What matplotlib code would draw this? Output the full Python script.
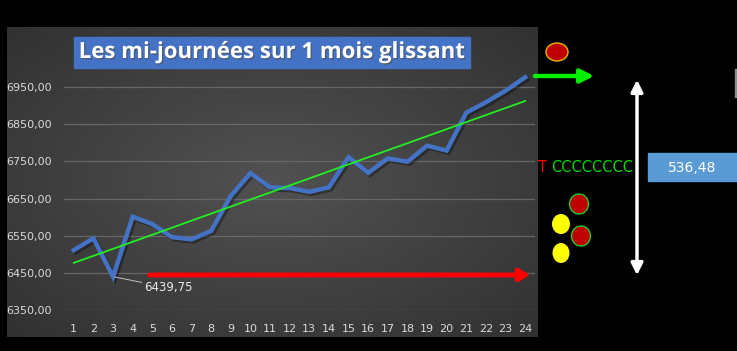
import numpy as np
import matplotlib
matplotlib.use("Agg")
import matplotlib.pyplot as plt
from matplotlib.patches import Ellipse, Rectangle, FancyArrowPatch
import matplotlib.patheffects as pe

# ---- data ----
days = list(range(1, 25))
values = [6511, 6543, 6439.75, 6601, 6581, 6546, 6540, 6563, 6657, 6718, 6680, 6678,
          6668, 6680, 6761, 6719, 6758, 6749, 6792, 6779, 6881, 6909, 6940, 6976]
ytick_vals = [6350, 6450, 6550, 6650, 6750, 6850, 6950]
min_label = "6439,75"
range_label = "536,48"
title = "Les mi-journées sur 1 mois glissant"

W, H = 737, 351
fig = plt.figure(figsize=(W / 100, H / 100), dpi=100, facecolor="black")

def fx(x):
    return x / W

def fy(y):
    return 1 - y / H

# background panel with radial gradient
px0, px1, py0, py1 = 7, 538, 27, 337
bg = fig.add_axes([fx(px0), fy(py1), fx(px1 - px0), (py1 - py0) / H])
bg.set_axis_off()
gx, gy = np.meshgrid(np.linspace(-1, 1, 300), np.linspace(-1, 1, 200))
r = np.sqrt((gx * 0.9) ** 2 + (gy * 0.9) ** 2)
shade = 0.32 - 0.13 * np.clip(r, 0, 1.3) / 1.3
img = np.dstack([shade, shade, shade])
bg.imshow(img, aspect="auto", extent=[0, 1, 0, 1], interpolation="bilinear")

# main chart
ax_left, ax_right = 64, 535
y_bottom, y_6950 = 310, 87
ymin, ymax = 6350, 7050
px_per_unit = (y_bottom - y_6950) / (6950 - 6350)
y_top = y_bottom - (ymax - ymin) * px_per_unit
ax = fig.add_axes([fx(ax_left), fy(y_bottom), fx(ax_right - ax_left), (y_bottom - y_top) / H])
ax.patch.set_alpha(0)
ax.set_xlim(0.5, 24.5)
ax.set_ylim(ymin, ymax)
for s in ax.spines.values():
    s.set_visible(False)
for v in ytick_vals:
    ax.axhline(v, color="#676767", lw=0.9, zorder=1)
ax.set_yticks(ytick_vals)
ax.set_yticklabels([f"{v:.2f}".replace(".", ",") for v in ytick_vals])
ax.set_xticks(days)
ax.tick_params(axis="both", length=0, colors="#d9d9d9", labelsize=8)
ax.tick_params(axis="y", pad=9)
ax.tick_params(axis="x", pad=10)

ax.plot(days, values, color="#4472C4", lw=3.2, zorder=3, solid_joinstyle="miter",
        path_effects=[pe.SimpleLineShadow(offset=(1.5, -1.5), alpha=0.35), pe.Normal()])

coef = np.polyfit(days, values, 1)
trend = np.polyval(coef, np.array(days, dtype=float))
ax.plot(days, trend, color="#22ee22", lw=1.3, zorder=4)

# data label for minimum
imin = int(np.argmin(values))
ax.annotate(min_label, xy=(days[imin], values[imin]), xytext=(days[imin] + 1.6, values[imin] - 30),
            color="#e8e8e8", fontsize=8.5, va="center", ha="left",
            arrowprops=dict(arrowstyle="-", color="#bfbfbf", lw=0.7, shrinkA=0, shrinkB=1))

# overlay axes in pixel coordinates
ov = fig.add_axes([0, 0, 1, 1])
ov.set_xlim(0, W)
ov.set_ylim(H, 0)
ov.set_axis_off()
ov.patch.set_alpha(0)

# title box
ov.add_patch(Rectangle((74, 37), 396, 31, color="#4472C4", zorder=5))
ov.text(272, 52.5, title, color="white", fontsize=16, fontweight="bold", family="Open Sans",
        ha="center", va="center", zorder=6,
        path_effects=[pe.withSimplePatchShadow(offset=(1, -1), alpha=0.6)])

# red arrow
ov.add_patch(FancyArrowPatch((147, 275), (533, 275), arrowstyle="-|>,head_length=6,head_width=3.5",
                             color="#ff0000", lw=3.5, mutation_scale=1, zorder=6))
# green arrow
ov.add_patch(FancyArrowPatch((532, 76), (597, 76), arrowstyle="-|>,head_length=8,head_width=4",
                             color="#00ee00", lw=3.2, mutation_scale=1, zorder=6))
# white double arrow
ov.add_patch(FancyArrowPatch((637, 77), (637, 278), arrowstyle="<|-|>,head_length=7,head_width=3.5",
                             color="white", lw=2.5, mutation_scale=1, zorder=6))

# ellipses
ov.add_patch(Ellipse((557, 52), 22, 18, facecolor="#c00000", edgecolor="#e6b800", lw=1, zorder=6))
ov.add_patch(Ellipse((579, 204), 19, 20, facecolor="#c00000", edgecolor="#22cc22", lw=1, zorder=6))
ov.add_patch(Ellipse((581, 236), 19, 20, facecolor="#c00000", edgecolor="#22cc22", lw=1, zorder=6))
ov.add_patch(Ellipse((561, 224), 18, 20, facecolor="#ffff00", edgecolor="none", zorder=6))
ov.add_patch(Ellipse((561, 253), 17, 20, facecolor="#ffff00", edgecolor="none", zorder=6))

# text
ov.text(538, 168, "T", color="#ff0000", fontsize=10.5, va="center", ha="left", zorder=6)
ov.text(551, 168, "CCCCCCCC", color="#00dd00", fontsize=10.5, va="center", ha="left", zorder=6)

# value box
ov.add_patch(Rectangle((648, 153), 89, 28, color="#5B9BD5", zorder=6))
ov.text(692, 168, range_label, color="white", fontsize=10, ha="center", va="center", zorder=7)

# small gray bar top right
ov.add_patch(Rectangle((735.5, 69), 1.5, 28, color="#8c8c8c", zorder=6))

fig.savefig("out.png", dpi=100, facecolor="black")
